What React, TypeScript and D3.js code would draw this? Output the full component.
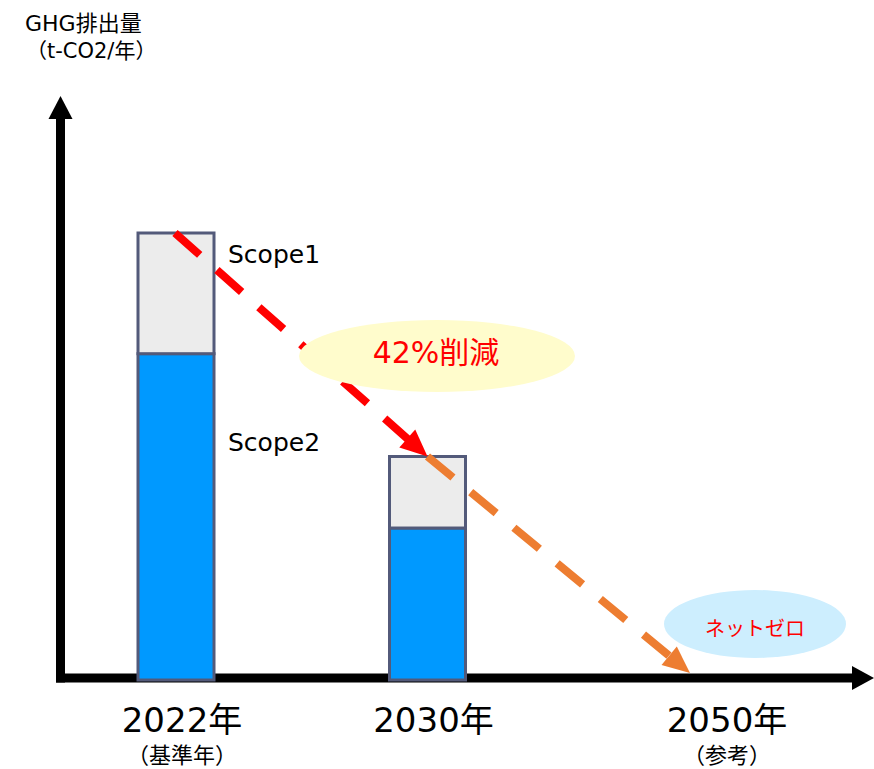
import * as d3 from 'd3';

// chart values (arbitrary units, 2022 total = 100)
const categories = ['2022', '2030', '2050'];
const yearLabels = ['2022年', '2030年', '2050年'];
const subLabels = ['（基準年）', '', '（参考）'];
const scope2Values = [73, 34, 0];
const scope1Values = [27, 16, 0];
const seriesNames = ['Scope1', 'Scope2'];
const reductionLabel = '42%削減';
const netZeroLabel = 'ネットゼロ';
const axisTitle = ['GHG排出量', '（t-CO2/年）'];

const W = 874;
const H = 769;
const FONT = '"DejaVu Sans", "Noto Sans CJK JP", sans-serif';
const CJK = '"Noto Sans CJK JP", sans-serif';

const COLORS = {
  scope1: '#ececec',
  scope2: '#0099ff',
  border: '#535a7a',
  red: '#ff0000',
  orange: '#ed7d31',
  yellowBubble: '#fffccc',
  blueBubble: '#cdeefe',
};

const x = d3.scaleOrdinal<string, number>().domain(categories).range([176, 427.5, 721]);
const y = d3.scaleLinear().domain([0, 100]).range([680, 233]);
const barW = 76;

function arrowHead(tx: number, ty: number, fx: number, fy: number, len: number, half: number) {
  const a = Math.atan2(ty - fy, tx - fx);
  const bx = tx - len * Math.cos(a);
  const by = ty - len * Math.sin(a);
  const px = -Math.sin(a) * half;
  const py = Math.cos(a) * half;
  return `M${tx},${ty}L${bx + px},${by + py}L${bx - px},${by - py}Z`;
}

export default function App() {
  const axisY = y(0) - 2;
  const axisX = 60.5;

  const totals = categories.map((_, i) => scope1Values[i] + scope2Values[i]);
  // trend path: top of 2022 bar -> top of 2030 bar -> near zero at 2050
  const p0: [number, number] = [x(categories[0]) - 1, y(totals[0])];
  const p1: [number, number] = [x(categories[1]), y(totals[1])];
  const p2: [number, number] = [x(categories[2]) - 31, y(totals[2]) - 7];

  const shorten = (a: [number, number], b: [number, number], d: number): [number, number] => {
    const L = Math.hypot(b[0] - a[0], b[1] - a[1]);
    return [b[0] - ((b[0] - a[0]) / L) * d, b[1] - ((b[1] - a[1]) / L) * d];
  };
  const r1 = shorten(p0, p1, 14);
  const o1 = shorten(p1, p2, 14);

  return (
    <svg width={W} height={H} style={{ position: 'absolute', left: 0, top: 0, display: 'block', background: '#fff' }}>
      {/* axis title */}
      <text x={25} y={31} fontFamily={FONT} fontSize={22} fill="#000">{axisTitle[0]}</text>
      <text x={26} y={58} fontFamily={FONT} fontSize={21} fill="#000">{axisTitle[1]}</text>

      {/* axes */}
      <line x1={axisX} x2={axisX} y1={axisY + 4.5} y2={118} stroke="#000" strokeWidth={9} />
      <path d={`M${axisX},96L${axisX - 12},119L${axisX + 12},119Z`} fill="#000" />
      <line x1={56} x2={853} y1={axisY} y2={axisY} stroke="#000" strokeWidth={9} />
      <path d={`M874,${axisY}L852,${axisY - 12}L852,${axisY + 12}Z`} fill="#000" />

      {/* stacked bars */}
      {categories.map((c, i) =>
        totals[i] > 0 ? (
          <g key={c}>
            <rect x={x(c) - barW / 2} y={y(scope2Values[i])} width={barW} height={y(0) - y(scope2Values[i])}
              fill={COLORS.scope2} stroke={COLORS.border} strokeWidth={3} />
            <rect x={x(c) - barW / 2} y={y(totals[i])} width={barW} height={y(scope2Values[i]) - y(totals[i])}
              fill={COLORS.scope1} stroke={COLORS.border} strokeWidth={3} />
          </g>
        ) : null
      )}

      {/* series labels */}
      <text x={x(categories[0]) + barW / 2 + 14} y={y(totals[0]) + 30} fontFamily={FONT} fontSize={25} fill="#000">{seriesNames[0]}</text>
      <text x={x(categories[0]) + barW / 2 + 14} y={y(scope2Values[0]) + 97} fontFamily={FONT} fontSize={25} fill="#000">{seriesNames[1]}</text>

      {/* reduction trend */}
      <line x1={p0[0]} y1={p0[1]} x2={r1[0]} y2={r1[1]} stroke={COLORS.red} strokeWidth={8} strokeDasharray="33,23" />
      <path d={arrowHead(p1[0], p1[1], p0[0], p0[1], 27, 12)} fill={COLORS.red} />
      <line x1={p1[0]} y1={p1[1]} x2={o1[0]} y2={o1[1]} stroke={COLORS.orange} strokeWidth={8} strokeDasharray="33,23" />
      <path d={arrowHead(p2[0], p2[1], p1[0], p1[1], 27, 12)} fill={COLORS.orange} />

      {/* callouts */}
      <ellipse cx={437} cy={356} rx={138} ry={36} fill={COLORS.yellowBubble} />
      <text x={436} y={352} textAnchor="middle" dominantBaseline="central" fontFamily={FONT} fontSize={30} fill={COLORS.red}>{reductionLabel}</text>
      <ellipse cx={755} cy={624} rx={91} ry={34} fill={COLORS.blueBubble} />
      <text x={755} y={627} textAnchor="middle" dominantBaseline="central" fontFamily={CJK} fontSize={20} fill={COLORS.red}>{netZeroLabel}</text>

      {/* category labels */}
      {categories.map((c, i) => (
        <g key={'l' + c}>
          <text x={x(c) + 6} y={732} textAnchor="middle" fontFamily={FONT} fontSize={34} fill="#000">{yearLabels[i]}</text>
          {subLabels[i] && (
            <text x={x(c) + 6} y={763} textAnchor="middle" fontFamily={CJK} fontSize={22} fill="#000">{subLabels[i]}</text>
          )}
        </g>
      ))}
    </svg>
  );
}
